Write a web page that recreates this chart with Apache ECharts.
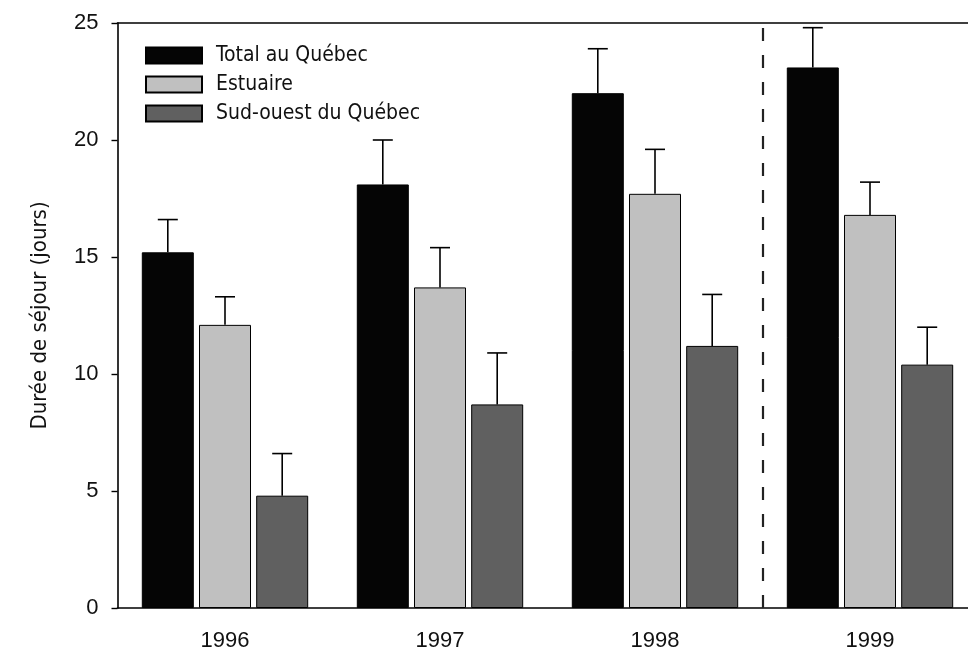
<!DOCTYPE html>
<html>
<head>
<meta charset="utf-8">
<script src="https://cdn.jsdelivr.net/npm/echarts@6/dist/echarts.min.js"></script>
<style>
html,body{margin:0;padding:0;background:#fff;overflow:hidden;width:968px;height:652px;}
#chart{width:980px;height:652px;}
</style>
</head>
<body>
<div id="chart"></div>
<script>
const categories = ['1996', '1997', '1998', '1999'];
const seriesNames = ['Total au Québec', 'Estuaire', 'Sud-ouest du Québec'];
const totalMean = [15.2, 18.1, 22.0, 23.1];
const totalUpper = [16.6, 20.0, 23.9, 24.8];
const estuaireMean = [12.1, 13.7, 17.7, 16.8];
const estuaireUpper = [13.3, 15.4, 19.6, 18.2];
const sudOuestMean = [4.8, 8.7, 11.2, 10.4];
const sudOuestUpper = [6.6, 10.9, 13.4, 12.0];
const yTicks = [0, 5, 10, 15, 20, 25];
const separatorPosition = 2.5; // between 1998 and 1999

const colors = ['#050505', '#c0c0c0', '#606060'];
const means = [totalMean, estuaireMean, sudOuestMean];
const uppers = [totalUpper, estuaireUpper, sudOuestUpper];
const BAR_W = 52;
const BAR_GAP = 0.1;
const condensed = '"Liberation Sans Narrow", "DejaVu Sans Condensed", "Roboto Condensed", sans-serif';
const regular = '"Liberation Sans", Arial, sans-serif';

const chart = echarts.init(document.getElementById('chart'), null, {renderer: 'canvas'});

const barSeries = seriesNames.map((name, k) => ({
  name: name,
  type: 'bar',
  xAxisIndex: 0,
  barWidth: BAR_W,
  barGap: (BAR_GAP * 100) + '%',
  itemStyle: {color: colors[k], borderColor: '#000', borderWidth: 1},
  emphasis: {disabled: true},
  data: means[k]
}));

const errSeries = seriesNames.map((name, k) => ({
  type: 'custom',
  xAxisIndex: 0,
  z: 3,
  silent: true,
  data: categories.map((c, i) => [i, means[k][i], uppers[k][i]]),
  renderItem: function (params, api) {
    const off = (k - 1) * (BAR_W * (1 + BAR_GAP));
    const base = api.coord([api.value(0), api.value(1)]);
    const top = api.coord([api.value(0), api.value(2)]);
    const x = base[0] + off;
    const st = {stroke: '#000', lineWidth: 1.6};
    return {
      type: 'group',
      children: [
        {type: 'line', shape: {x1: x, y1: base[1], x2: x, y2: top[1]}, style: st},
        {type: 'line', shape: {x1: x - 10, y1: top[1], x2: x + 10, y2: top[1]}, style: st}
      ]
    };
  }
}));

const option = {
  animation: false,
  backgroundColor: '#fff',
  grid: {left: 117.5, top: 23, width: 860, height: 585.7, containLabel: false},
  legend: {
    left: 140, top: 40, orient: 'vertical',
    itemWidth: 56, itemHeight: 16, itemGap: 8,
    icon: 'rect',
    data: seriesNames,
    textStyle: {fontFamily: condensed, fontSize: 21, color: '#111', padding: [0, 0, 0, 9]},
    selectedMode: false
  },
  xAxis: [
    {
      type: 'category', data: categories, position: 'bottom',
      axisLine: {lineStyle: {color: '#000', width: 1.6}},
      axisTick: {alignWithLabel: true, length: 6, lineStyle: {color: '#000', width: 1.4}},
      axisLabel: {fontFamily: regular, fontSize: 22, color: '#111', margin: 22},
      splitLine: {show: false}
    },
    {
      type: 'value', min: -0.5, max: 3.5, position: 'top',
      axisLine: {show: true, onZero: false, lineStyle: {color: '#000', width: 1.6}},
      axisTick: {show: false}, axisLabel: {show: false}, splitLine: {show: false}
    }
  ],
  yAxis: {
    type: 'value', min: yTicks[0], max: yTicks[yTicks.length - 1], interval: 5,
    name: 'Durée de séjour (jours)', nameLocation: 'middle', nameRotate: 90, nameGap: 66,
    nameTextStyle: {fontFamily: condensed, fontSize: 22, color: '#111'},
    axisLine: {show: true, onZero: false, lineStyle: {color: '#000', width: 1.6}},
    axisTick: {show: true, length: 6, lineStyle: {color: '#000', width: 1.4}},
    axisLabel: {fontFamily: regular, fontSize: 22, color: '#111', margin: 19},
    splitLine: {show: false}
  },
  series: barSeries.concat(errSeries).concat([{
    type: 'line', xAxisIndex: 1, data: [], silent: true,
    markLine: {
      silent: true, symbol: ['none', 'none'], animation: false,
      label: {show: false},
      lineStyle: {color: '#222', width: 2.2, type: [13, 14]},
      data: [{xAxis: separatorPosition}]
    }
  }])
};
chart.setOption(option);
</script>
</body>
</html>
